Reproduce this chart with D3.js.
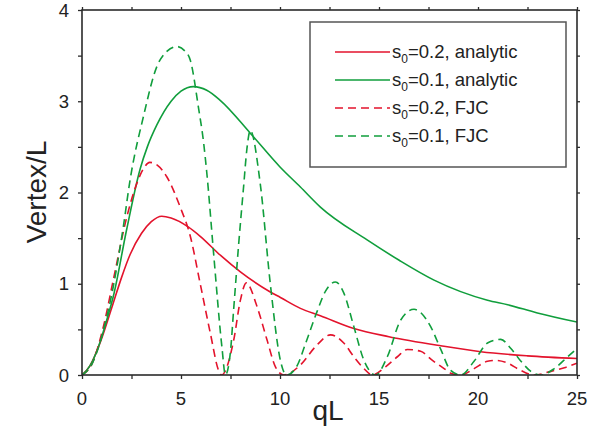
<!DOCTYPE html>
<html>
<head>
<meta charset="utf-8">
<script src="https://cdn.jsdelivr.net/npm/d3@7"></script>
<style>
  body { margin: 0; background: #fff; }
  svg { display: block; font-family: "Liberation Sans", Arial, Helvetica, sans-serif; }
</style>
</head>
<body>
<svg id="chart" width="601" height="439"></svg>
<script>
// values
const xTicks = [0, 5, 10, 15, 20, 25]
const yTicks = [0, 1, 2, 3, 4]

const qA02 = [0, 0.4, 0.91, 1.3, 1.58, 2.0, 2.43, 3.0, 3.5, 4.03, 4.5, 5.38, 5.97, 7.0, 8.0, 9.51, 10.02, 11.03, 12.04, 13.73, 15.5, 18.12, 20.14, 22.5, 25]
const vA02 = [0, 0.1, 0.35, 0.6, 0.79, 1.07, 1.32, 1.55, 1.68, 1.74, 1.72, 1.62, 1.52, 1.31, 1.13, 0.91, 0.85, 0.73, 0.65, 0.51, 0.42, 0.32, 0.255, 0.21, 0.18]

const qA01 = [0, 0.4, 0.91, 1.3, 1.58, 2.26, 2.94, 3.3, 3.78, 4.5, 5.0, 5.63, 6.3, 6.98, 8.5, 10.0, 11.03, 12.04, 14.4, 16.0, 17.78, 20.48, 21.5, 23.0, 25]
const vA01 = [0, 0.1, 0.36, 0.64, 0.86, 1.6, 2.26, 2.5, 2.74, 3.0, 3.11, 3.16, 3.12, 3.01, 2.65, 2.28, 2.06, 1.84, 1.48, 1.26, 1.04, 0.82, 0.77, 0.68, 0.58]

const qF02 = [0, 0.5, 1.08, 1.58, 2.26, 2.77, 3.1, 3.42, 3.8, 4.29, 4.96, 5.47, 5.97, 6.48, 6.9, 7.05, 7.66, 8.0, 8.3, 8.84, 9.35, 9.77, 10.19, 11.03, 11.79, 12.55, 13.22, 13.73, 14.24, 14.66, 15.33, 15.93, 16.43, 17.1, 17.7, 18.29, 18.62, 19.13, 19.8, 20.48, 20.9, 21.5, 22.08, 22.84, 23.68, 24.36, 25]
const vF02 = [0, 0.12, 0.53, 1.04, 1.73, 2.10, 2.26, 2.33, 2.30, 2.17, 1.84, 1.52, 1.0, 0.46, 0.05, 0, 0.38, 0.82, 1.01, 0.75, 0.38, 0.09, 0, 0.11, 0.31, 0.44, 0.35, 0.2, 0.07, 0, 0.09, 0.2, 0.28, 0.26, 0.16, 0.07, 0.02, 0, 0.07, 0.15, 0.16, 0.13, 0.06, 0, 0.04, 0.08, 0.13]

const qF01 = [0, 0.5, 1.08, 1.58, 2.09, 2.43, 3.10, 3.78, 4.3, 4.79, 5.2, 5.47, 5.89, 6.14, 6.31, 6.64, 7.07, 7.24, 7.49, 7.66, 7.9, 8.16, 8.33, 8.5, 9.0, 9.51, 10.02, 10.33, 10.86, 11.3, 11.88, 12.3, 12.8, 13.22, 13.73, 14.24, 14.83, 15.42, 16.09, 16.77, 17.61, 18.12, 18.62, 19.13, 19.8, 20.48, 21.15, 21.66, 22.17, 22.67, 23.18, 23.85, 24.53, 25]
const vF01 = [0, 0.12, 0.49, 0.97, 1.63, 2.14, 2.83, 3.38, 3.55, 3.60, 3.55, 3.45, 2.92, 2.55, 2.2, 1.35, 0.3, 0, 0.24, 0.72, 1.4, 2.06, 2.48, 2.68, 2.10, 1.0, 0.16, 0, 0.1, 0.35, 0.70, 0.92, 1.02, 0.90, 0.53, 0.16, 0, 0.2, 0.60, 0.72, 0.53, 0.28, 0.05, 0, 0.15, 0.35, 0.39, 0.29, 0.15, 0.04, 0, 0.07, 0.2, 0.29]

const seriesNames = ['analytic02', 'analytic01', 'fjc02', 'fjc01']
const legendLabels = [['0.2', 'analytic'], ['0.1', 'analytic'], ['0.2', 'FJC'], ['0.1', 'FJC']]

const RED = '#e3132c'
const GREEN = '#109e3c'
const AXIS = '#2b2b2b'

const series = [
  { name: seriesNames[0], q: qA02, v: vA02, color: RED, dash: null },
  { name: seriesNames[1], q: qA01, v: vA01, color: GREEN, dash: null },
  { name: seriesNames[2], q: qF02, v: vF02, color: RED, dash: '8,5' },
  { name: seriesNames[3], q: qF01, v: vF01, color: GREEN, dash: '8,5' }
]

const svg = d3.select('#chart')
const plotL = 82, plotR = 577, plotT = 10, plotB = 375

const x = d3.scaleLinear().domain([0, 25]).range([plotL, plotR])
const y = d3.scaleLinear().domain([0, 4]).range([plotB, plotT])

svg.append('clipPath').attr('id', 'plot-clip')
  .append('rect')
  .attr('x', plotL).attr('y', plotT - 1)
  .attr('width', plotR - plotL).attr('height', plotB - plotT + 1)

const line = d3.line()
  .x(d => x(d[0]))
  .y(d => y(d[1]))
  .curve(d3.curveMonotoneX)

const plot = svg.append('g').attr('clip-path', 'url(#plot-clip)')
series.forEach(s => {
  plot.append('path')
    .datum(d3.zip(s.q, s.v))
    .attr('fill', 'none')
    .attr('stroke', s.color)
    .attr('stroke-width', 1.6)
    .attr('stroke-dasharray', s.dash)
    .attr('d', line)
})

// frame with outward ticks on all four sides
const minorX = d3.range(0, 25.01, 2.5)
const minorY = d3.range(0, 4.01, 0.5)

function styleAxis(g) {
  g.select('.domain').remove()
  g.selectAll('line').attr('stroke', AXIS).attr('stroke-width', 1.3)
  g.selectAll('text').remove()
}

svg.append('g').attr('transform', `translate(0,${plotB})`)
  .call(d3.axisBottom(x).tickValues(minorX).tickSize(4)).call(styleAxis)
svg.append('g').attr('transform', `translate(0,${plotT})`)
  .call(d3.axisTop(x).tickValues(minorX).tickSize(3)).call(styleAxis)
svg.append('g').attr('transform', `translate(${plotL},0)`)
  .call(d3.axisLeft(y).tickValues(minorY).tickSize(4)).call(styleAxis)
svg.append('g').attr('transform', `translate(${plotR},0)`)
  .call(d3.axisRight(y).tickValues(minorY).tickSize(3)).call(styleAxis)

svg.append('rect')
  .attr('x', plotL).attr('y', plotT)
  .attr('width', plotR - plotL).attr('height', plotB - plotT)
  .attr('fill', 'none').attr('stroke', AXIS).attr('stroke-width', 1.6)

// tick labels
svg.append('g').selectAll('text').data(xTicks).join('text')
  .attr('x', d => x(d)).attr('y', 405)
  .attr('text-anchor', 'middle')
  .attr('font-size', 18.5).attr('fill', '#222')
  .text(d => d)

svg.append('g').selectAll('text').data(yTicks).join('text')
  .attr('x', 69).attr('y', d => y(d) + 6.5)
  .attr('text-anchor', 'end')
  .attr('font-size', 18.5).attr('fill', '#222')
  .text(d => d)

// axis titles
svg.append('text')
  .attr('x', 328).attr('y', 420)
  .attr('text-anchor', 'middle')
  .attr('font-size', 28).attr('fill', '#222')
  .text('qL')

svg.append('text')
  .attr('transform', 'translate(46,192) rotate(-90)')
  .attr('text-anchor', 'middle')
  .attr('font-size', 28).attr('fill', '#222')
  .text('Vertex/L')

// legend
const legend = svg.append('g')
legend.append('rect')
  .attr('x', 310).attr('y', 22).attr('width', 256).attr('height', 145)
  .attr('fill', '#fff').attr('stroke', '#555').attr('stroke-width', 1.5)

series.forEach((s, i) => {
  const ly = 52 + i * 28
  legend.append('line')
    .attr('x1', 335).attr('x2', 390).attr('y1', ly).attr('y2', ly)
    .attr('stroke', s.color).attr('stroke-width', 1.6)
    .attr('stroke-dasharray', s.dash)
  const t = legend.append('text')
    .attr('x', 392).attr('y', ly + 5.5)
    .attr('font-size', 18.5).attr('fill', '#222')
  t.append('tspan').text('s')
  t.append('tspan').attr('font-size', 12).attr('dy', 5).text('0')
  t.append('tspan').attr('dy', -5).text(`=${legendLabels[i][0]}, ${legendLabels[i][1]}`)
})
</script>
</body>
</html>
